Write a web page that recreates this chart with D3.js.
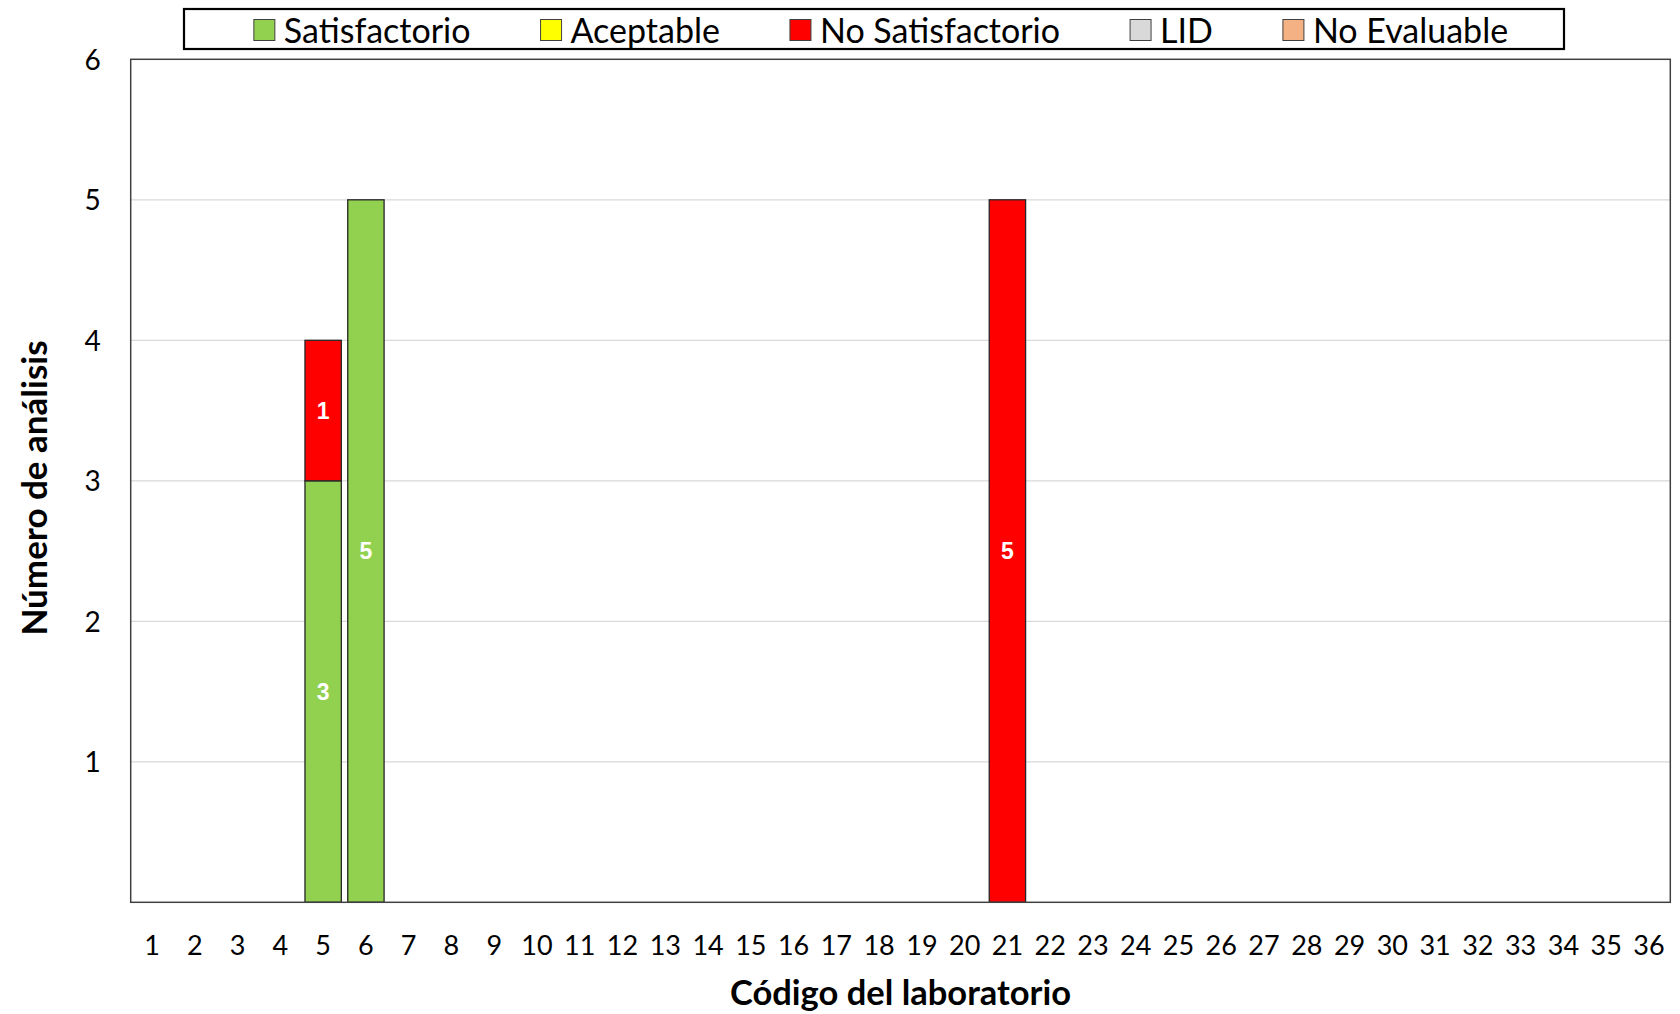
<!DOCTYPE html>
<html>
<head>
<meta charset="utf-8">
<script src="https://cdn.jsdelivr.net/npm/d3@7"></script>
<style>
  html, body { margin: 0; padding: 0; background: #fff; }
  svg { display: block; }
</style>
</head>
<body>
<svg id="chart" width="1680" height="1014"></svg>
<script>
// ---------------- DATA ----------------
const labs = ["1","2","3","4","5","6","7","8","9","10","11","12","13","14","15","16","17","18",
              "19","20","21","22","23","24","25","26","27","28","29","30","31","32","33","34","35","36"];
const seriesNames = ["Satisfactorio", "Aceptable", "No Satisfactorio", "LID", "No Evaluable"];
const satisfactorio   = [0,0,0,0,3,5,0,0,0,0,0,0,0,0,0,0,0,0,0,0,0,0,0,0,0,0,0,0,0,0,0,0,0,0,0,0];
const aceptable       = [0,0,0,0,0,0,0,0,0,0,0,0,0,0,0,0,0,0,0,0,0,0,0,0,0,0,0,0,0,0,0,0,0,0,0,0];
const noSatisfactorio = [0,0,0,0,1,0,0,0,0,0,0,0,0,0,0,0,0,0,0,0,5,0,0,0,0,0,0,0,0,0,0,0,0,0,0,0];
const lid             = [0,0,0,0,0,0,0,0,0,0,0,0,0,0,0,0,0,0,0,0,0,0,0,0,0,0,0,0,0,0,0,0,0,0,0,0];
const noEvaluable     = [0,0,0,0,0,0,0,0,0,0,0,0,0,0,0,0,0,0,0,0,0,0,0,0,0,0,0,0,0,0,0,0,0,0,0,0];
const yTicks = [1, 2, 3, 4, 5, 6];
const xTitle = "Código del laboratorio";
const yTitle = "Número de análisis";

// ---------------- STYLE ----------------
const colors = ["#92D050", "#FFFF00", "#FF0000", "#D9D9D9", "#F4B183"];
const FONT = "Lato, 'Open Sans', sans-serif";

const rows = labs.map((lab, i) => ({
  lab,
  "Satisfactorio": satisfactorio[i],
  "Aceptable": aceptable[i],
  "No Satisfactorio": noSatisfactorio[i],
  "LID": lid[i],
  "No Evaluable": noEvaluable[i]
}));

const svg = d3.select("#chart");
const plot = { left: 130.7, right: 1670.3, top: 59.3, bottom: 902.3 };

const x = d3.scaleBand().domain(labs).range([plot.left, plot.right])
  .paddingInner(0.15).paddingOuter(0.075);
const y = d3.scaleLinear().domain([0, 6]).range([plot.bottom, plot.top]);
const color = d3.scaleOrdinal().domain(seriesNames).range(colors);

// gridlines
svg.append("g").selectAll("line").data(yTicks.filter(t => t < 6)).join("line")
  .attr("x1", plot.left).attr("x2", plot.right)
  .attr("y1", d => y(d)).attr("y2", d => y(d))
  .attr("stroke", "#D9D9D9").attr("stroke-width", 1.3);

// bars
const stacked = d3.stack().keys(seriesNames)(rows);
const layers = svg.append("g").selectAll("g").data(stacked).join("g")
  .attr("fill", d => color(d.key));
layers.selectAll("rect").data(d => d.filter(s => s[1] - s[0] > 0)).join("rect")
  .attr("x", d => x(d.data.lab))
  .attr("width", x.bandwidth())
  .attr("y", d => y(d[1]))
  .attr("height", d => y(d[0]) - y(d[1]))
  .attr("stroke", "#262626").attr("stroke-width", 1.3);

// data labels
const labelG = svg.append("g");
stacked.forEach(layer => {
  layer.filter(s => s[1] - s[0] > 0).forEach(s => {
    labelG.append("text")
      .attr("x", x(s.data.lab) + x.bandwidth() / 2)
      .attr("y", y((s[0] + s[1]) / 2))
      .attr("dy", "0.36em")
      .attr("text-anchor", "middle")
      .attr("fill", "#fff")
      .attr("font-family", "'Liberation Sans', Arial, sans-serif")
      .attr("font-weight", "bold")
      .attr("font-size", 23)
      .text(s[1] - s[0]);
  });
});

// plot frame
svg.append("rect")
  .attr("x", plot.left).attr("y", plot.top)
  .attr("width", plot.right - plot.left).attr("height", plot.bottom - plot.top)
  .attr("fill", "none").attr("stroke", "#404040").attr("stroke-width", 1.5);

// x axis
const xAxis = svg.append("g").attr("transform", `translate(0,${plot.bottom})`)
  .call(d3.axisBottom(x).tickSize(0).tickPadding(0));
xAxis.select(".domain").remove();
xAxis.selectAll("text")
  .attr("dy", null).attr("y", 53)
  .attr("font-family", FONT).attr("font-size", 27).attr("fill", "#000");

// y axis
const yAxis = svg.append("g").attr("transform", `translate(${plot.left},0)`)
  .call(d3.axisLeft(y).tickValues(yTicks).tickFormat(d3.format("d")).tickSize(0).tickPadding(0));
yAxis.select(".domain").remove();
yAxis.selectAll("text")
  .attr("x", -30).attr("dy", "0.36em")
  .attr("font-family", FONT).attr("font-size", 28).attr("fill", "#000");

// axis titles
svg.append("text")
  .attr("x", (plot.left + plot.right) / 2).attr("y", 1005)
  .attr("text-anchor", "middle")
  .attr("font-family", FONT).attr("font-weight", "bold").attr("font-size", 34.5)
  .text(xTitle);
svg.append("text")
  .attr("transform", `translate(47,488) rotate(-90)`)
  .attr("text-anchor", "middle")
  .attr("font-family", FONT).attr("font-weight", "bold").attr("font-size", 35)
  .text(yTitle);

// legend
const legendBox = { x: 184, y: 9, w: 1380, h: 40 };
svg.append("rect")
  .attr("x", legendBox.x).attr("y", legendBox.y)
  .attr("width", legendBox.w).attr("height", legendBox.h)
  .attr("fill", "#fff").attr("stroke", "#000").attr("stroke-width", 2.2);
const lg = svg.append("g");
const items = lg.selectAll("g").data(seriesNames).join("g");
items.append("rect")
  .attr("width", 21).attr("height", 21)
  .attr("y", legendBox.y + legendBox.h / 2 - 9.5)
  .attr("fill", d => color(d)).attr("stroke", "#404040").attr("stroke-width", 1);
items.append("text")
  .attr("x", 30)
  .attr("y", legendBox.y + legendBox.h / 2)
  .attr("dy", "0.4em")
  .attr("font-family", FONT).attr("font-size", 34).attr("fill", "#000")
  .text(d => d);
// layout items sequentially
let cursor = 0;
const widths = [];
items.each(function() {
  const w = 30 + d3.select(this).select("text").node().getComputedTextLength();
  widths.push(w);
});
const gap = 70;
const total = d3.sum(widths) + gap * (widths.length - 1);
cursor = 881 - total / 2;
items.each(function(d, i) {
  d3.select(this).attr("transform", `translate(${cursor},0)`);
  cursor += widths[i] + gap;
});
</script>
</body>
</html>
